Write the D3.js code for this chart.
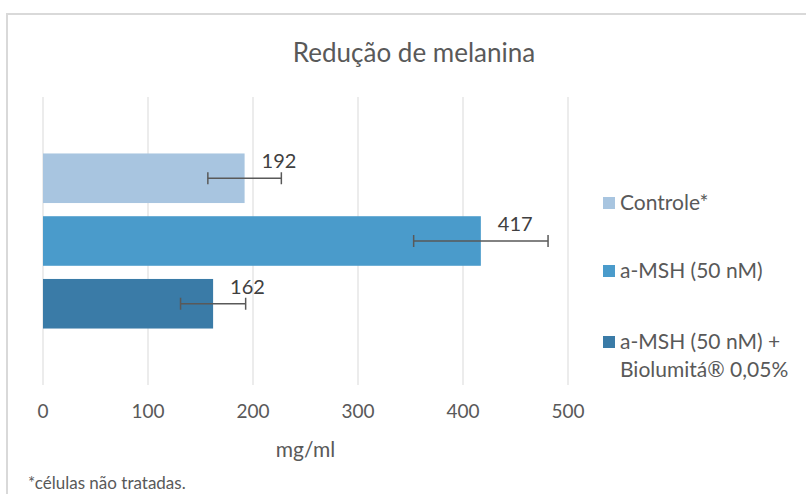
<!DOCTYPE html>
<html>
<head>
<meta charset="utf-8">
<script src="https://cdn.jsdelivr.net/npm/d3@7"></script>
<style>
  body { margin: 0; background: #fff; }
  svg { display: block; font-family: Lato, "Open Sans", sans-serif; }
</style>
</head>
<body>
<div id="chart"></div>
<script>
// series data
const seriesNames = ["Controle*", "a-MSH (50 nM)", "a-MSH (50 nM) +\nBiolumitá® 0,05%"];
const values = [192, 417, 162];
const errors = [35, 64, 31];
const colors = ["#a8c5e0", "#4a9bcb", "#3a7ba7"];
const xTicks = [0, 100, 200, 300, 400, 500];

const width = 806, height = 494;
const svg = d3.select("#chart").append("svg")
    .attr("width", width).attr("height", height);

// chart frame
svg.append("rect")
    .attr("x", 7).attr("y", 14)
    .attr("width", 820).attr("height", 500)
    .attr("fill", "#fff")
    .attr("stroke", "#d9d9d9")
    .attr("stroke-width", 2);

svg.append("text")
    .attr("x", 414).attr("y", 62)
    .attr("text-anchor", "middle")
    .attr("font-size", "26px")
    .attr("fill", "#595959")
    .text("Redução de melanina");

const plot = { left: 43, right: 568, top: 97, bottom: 385 };

const x = d3.scaleLinear().domain([0, 500]).range([plot.left, plot.right]);
const y = d3.scaleBand()
    .domain(d3.range(values.length))
    .range([plot.top, plot.bottom])
    .paddingInner(0.21)
    .paddingOuter(0.9);

// gridlines
svg.append("g")
  .selectAll("line")
  .data(xTicks)
  .join("line")
    .attr("x1", d => x(d)).attr("x2", d => x(d))
    .attr("y1", plot.top).attr("y2", plot.bottom)
    .attr("stroke", "#d9d9d9")
    .attr("stroke-width", 1);

// tick labels
svg.append("g")
  .selectAll("text")
  .data(xTicks)
  .join("text")
    .attr("x", d => x(d))
    .attr("y", 418)
    .attr("text-anchor", "middle")
    .attr("font-size", "19px")
    .attr("fill", "#595959")
    .text(d => d);

svg.append("text")
    .attr("x", (plot.left + plot.right) / 2)
    .attr("y", 457)
    .attr("text-anchor", "middle")
    .attr("font-size", "21px")
    .attr("fill", "#595959")
    .text("mg/ml");

// bars
svg.append("g")
  .selectAll("rect")
  .data(values)
  .join("rect")
    .attr("x", x(0))
    .attr("y", (d, i) => y(i))
    .attr("width", d => x(d) - x(0))
    .attr("height", y.bandwidth())
    .attr("fill", (d, i) => colors[i]);

// error bars
const eb = svg.append("g").attr("stroke", "#595959").attr("stroke-width", 1.5);
values.forEach((v, i) => {
    const cy = y(i) + y.bandwidth() / 2;
    eb.append("line")
        .attr("x1", x(v - errors[i])).attr("x2", x(v + errors[i]))
        .attr("y1", cy).attr("y2", cy);
    [v - errors[i], v + errors[i]].forEach(e => {
        eb.append("line")
            .attr("x1", x(e)).attr("x2", x(e))
            .attr("y1", cy - 6).attr("y2", cy + 6);
    });
});

// value labels
svg.append("g")
  .selectAll("text")
  .data(values)
  .join("text")
    .attr("x", d => x(d) + 17)
    .attr("y", (d, i) => y(i) + y.bandwidth() / 2 - 10)
    .attr("font-size", "20px")
    .attr("fill", "#404040")
    .text(d => d);

// legend
const legendY = [203, 271, 342];
const legend = svg.append("g");
seriesNames.forEach((name, i) => {
    legend.append("rect")
        .attr("x", 603).attr("y", legendY[i] - 6)
        .attr("width", 12).attr("height", 12)
        .attr("fill", colors[i]);
    const t = legend.append("text")
        .attr("x", 620).attr("y", legendY[i] + 7)
        .attr("font-size", "21px")
        .attr("fill", "#595959");
    name.split("\n").forEach((line, j) => {
        t.append("tspan")
            .attr("x", 620)
            .attr("dy", j === 0 ? 0 : 28)
            .text(line);
    });
});

svg.append("text")
    .attr("x", 28).attr("y", 489)
    .attr("font-size", "17px")
    .attr("fill", "#595959")
    .text("*células não tratadas.");
</script>
</body>
</html>
